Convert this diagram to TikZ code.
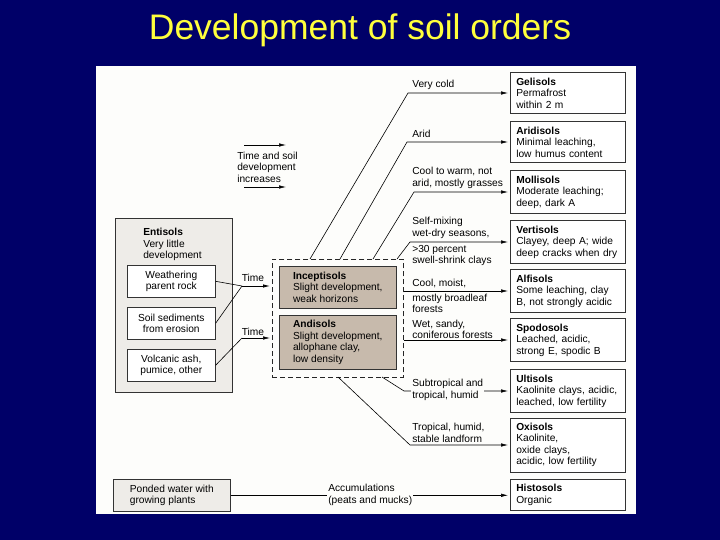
\documentclass[tikz,border=0pt]{standalone}
\usepackage{fontspec}
\setmainfont{Liberation Sans}
\usetikzlibrary{arrows.meta,positioning}

\definecolor{slide}{RGB}{0,0,104}
\definecolor{titleyellow}{RGB}{255,255,60}
\definecolor{paper}{RGB}{253,253,251}
\definecolor{entgray}{RGB}{238,236,232}
\definecolor{soiltan}{RGB}{199,186,172}

\begin{document}
\begin{tikzpicture}[x=1pt,y=-1pt,semithick,
    every node/.style={font=\fontsize{10.2}{11.5}\selectfont},
    arr/.style={-{Latex[length=7pt,width=3.5pt]},shorten >=2pt},
    order/.style={draw=black!80,fill=white,anchor=west,align=left,
      text width=103pt,inner xsep=6pt,inner ysep=5pt},
    src/.style={draw=black!80,fill=white,anchor=north west,align=center,
      minimum width=88pt,minimum height=32pt,inner sep=1pt},
    dev/.style={draw=black!80,fill=soiltan,anchor=north west,align=left,
      minimum width=117pt,inner sep=3pt},
    cond/.style={anchor=west,align=left,inner sep=1pt}]

    \useasboundingbox (0,0) rectangle (720,540);
    \fill[slide] (0,0) rectangle (720,540);
    \fill[paper] (96,66) rectangle (636,514);
    \node[font=\fontsize{35.5}{40}\selectfont,text=titleyellow,anchor=base]
      (title) at (360,40) {Development of soil orders};

    \node[order] (gel) at (510,93) {\textbf{Gelisols}\\Permafrost\\within 2 m};
    \node[order] (ari) at (510,142) {\textbf{Aridisols}\\Minimal leaching,\\low humus content};
    \node[order] (mol) at (510,192) {\textbf{Mollisols}\\Moderate leaching;\\deep, dark A};
    \node[order] (ver) at (510,242) {\textbf{Vertisols}\\Clayey, deep A; wide\\deep cracks when dry};
    \node[order] (alf) at (510,291) {\textbf{Alfisols}\\Some leaching, clay\\B, not strongly acidic};
    \node[order] (spo) at (510,340) {\textbf{Spodosols}\\Leached, acidic,\\strong E, spodic B};
    \node[order] (ult) at (510,391) {\textbf{Ultisols}\\Kaolinite clays, acidic,\\leached, low fertility};
    \node[order] (oxi) at (510,445) {\textbf{Oxisols}\\Kaolinite,\\oxide clays,\\acidic, low fertility};
    \node[order] (his) at (510,495) {\textbf{Histosols}\\Organic};

    \node[draw=black!80,fill=entgray,anchor=north west,minimum width=117pt,
      minimum height=174pt] (ent) at (115,218) {};
    \node[cond] (enttxt) at (142,244.5) {\textbf{Entisols}\\Very little\\development};
    \node[src] (wea) at (127,265) {Weathering\\parent rock};
    \node[src] (sed) at (127,307) {Soil sediments\\from erosion};
    \node[src] (vol) at (127,349) {Volcanic ash,\\pumice, other};

    \node[draw=black!85,thick,dashed,dash pattern=on 5pt off 3pt,anchor=north west,
      minimum width=131pt,minimum height=118pt] (dash) at (272,259) {};
    \node[dev,minimum height=42pt] (inc) at (279,266)
      {\textbf{Inceptisols}\\Slight development,\\weak horizons};
    \node[dev,minimum height=54pt] (andi) at (279,315)
      {\textbf{Andisols}\\Slight development,\\allophane clay,\\low density};

    \node[draw=black!80,fill=entgray,anchor=north west,align=left,
      minimum width=117pt,minimum height=32pt] (pond) at (113,479)
      {Ponded water with\\growing plants};

    \coordinate (j1) at (242,286);
    \coordinate (j2) at (242,338);
    \draw (wea.east) -- (j1);
    \draw (sed.east) -- (j1);
    \draw[arr,thick] (j1) -- (j1 -| dash.west);
    \draw (vol.east) -- (j2);
    \draw[arr] (j2) -- (j2 -| dash.west);
    \node (t1) at (253,278) {Time};
    \node (t2) at (253,332) {Time};

    \node[cond] (tsd) at (236,167) {Time and soil\\development\\increases};
    \coordinate (s1) at (244,145);
    \coordinate (e1) at (288,145);
    \coordinate (s2) at (244,187);
    \coordinate (e2) at (288,187);
    \draw[arr] (s1) -- (e1);
    \draw[arr] (s2) -- (e2);

    \coordinate (q1) at (310,259);
    \coordinate (q2) at (340,259);
    \coordinate (q3) at (373,259);
    \coordinate (q4) at (397,259);
    \coordinate (q5) at (382,377);
    \coordinate (q6) at (338,377);
    \coordinate (k1) at (408,0);
    \coordinate (k2) at (407,0);
    \coordinate (k3) at (414,0);
    \coordinate (k4) at (410,0);
    \coordinate (k5) at (404,0);
    \coordinate (k6) at (410,0);

    \draw[arr] (q1) -- (k1 |- gel.west) -- (gel.west);
    \draw[arr] (q2) -- (k2 |- ari.west) -- (ari.west);
    \draw[arr] (q3) -- (k3 |- mol.west) -- (mol.west);
    \draw[arr] (q4) -- (k4 |- ver.west) -- (ver.west);
    \draw[arr] (dash.east |- alf.west) -- (alf.west);
    \draw[arr] (dash.east |- spo.west) -- (spo.west);
    \draw[arr] (q5) -- (k5 |- ult.west) -- (ult.west);
    \draw[arr] (q6) -- (k6 |- oxi.west) -- (oxi.west);
    \draw[arr] (pond.east) -- (pond.east -| his.west);

    \node[cond] (lvc) at (411,85) {Very cold};
    \node[cond] (lar) at (411,134) {Arid};
    \node[cond] (lcw) at (411,178) {Cool to warm, not\\arid, mostly grasses};
    \node[cond] (lsm) at (411,228) {Self-mixing\\wet-dry seasons,};
    \node[cond] (lsw) at (411,255.5) {>30 percent\\swell-shrink clays};
    \node[cond] (lcm) at (411,283) {Cool, moist,};
    \node[cond] (lmb) at (411,303.5) {mostly broadleaf\\forests};
    \node[cond] (lws) at (411,329.5) {Wet, sandy,\\coniferous forests};
    \node[cond,fill=paper] (lst) at (411,390) {Subtropical and\\tropical, humid};
    \node[cond] (lth) at (411,433) {Tropical, humid,\\stable landform};
    \node[cond,fill=paper] (lac) at (327,495) {Accumulations\\(peats and mucks)};
\end{tikzpicture}
\end{document}
